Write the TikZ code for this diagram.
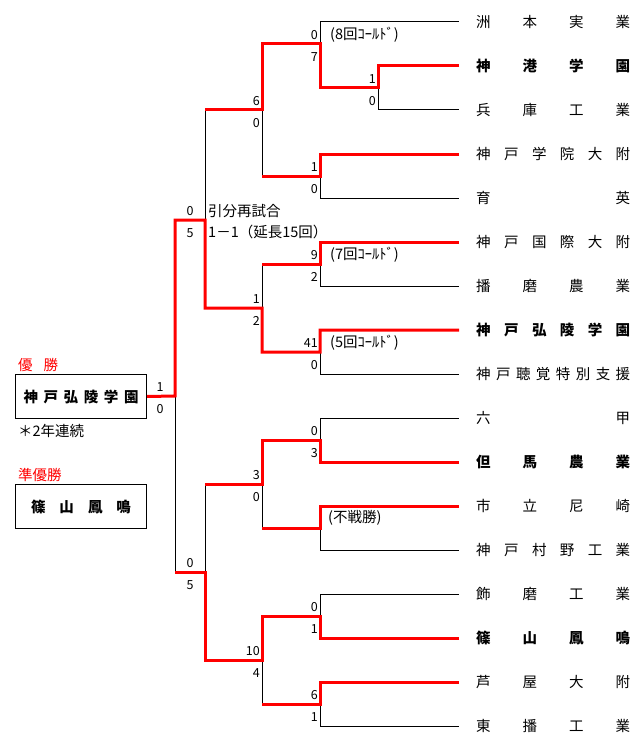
\documentclass[tikz,border=0pt]{standalone}
\usepackage{fontspec}
\setmainfont{Noto Sans CJK JP}
\definecolor{wred}{RGB}{255,0,0}
\begin{document}
\begin{tikzpicture}[x=1pt,y=-1pt,
  bk/.style={line width=1pt, black},
  rd/.style={line width=3pt, wred, line join=miter},
  tn/.style={anchor=west, inner sep=0pt, font=\fontsize{14.5}{14.5}\selectfont},
  tnb/.style={anchor=west, inner sep=0pt, font=\fontsize{14.5}{14.5}\selectfont\bfseries},
  sa/.style={anchor=east, inner sep=0pt, font=\fontsize{12.5}{12.5}\selectfont},
  sc/.style={inner sep=0pt, font=\fontsize{12.5}{12.5}\selectfont},
  nt/.style={anchor=west, inner sep=0pt, font=\fontsize{14.5}{14.5}\selectfont},
  wbox/.style={draw, line width=1pt, minimum width=131pt, minimum height=44pt, inner sep=0pt, anchor=north west, font=\fontsize{14.5}{14.5}\selectfont\bfseries},
]
\useasboundingbox (0,0) rectangle (633,749);
\fill[white] (0,0) rectangle (633,749);

% team names
\node[tn]  (t1)  at (476,22)  {\makebox[154pt]{洲\hfill{}本\hfill{}実\hfill{}業}};
\node[tnb] (t2)  at (476,66)  {\makebox[154pt]{神\hfill{}港\hfill{}学\hfill{}園}};
\node[tn]  (t3)  at (476,110) {\makebox[154pt]{兵\hfill{}庫\hfill{}工\hfill{}業}};
\node[tn]  (t4)  at (476,154) {\makebox[154pt]{神\hfill{}戸\hfill{}学\hfill{}院\hfill{}大\hfill{}附}};
\node[tn]  (t5)  at (476,198) {\makebox[154pt]{育\hfill{}英}};
\node[tn]  (t6)  at (476,242) {\makebox[154pt]{神\hfill{}戸\hfill{}国\hfill{}際\hfill{}大\hfill{}附}};
\node[tn]  (t7)  at (476,286) {\makebox[154pt]{播\hfill{}磨\hfill{}農\hfill{}業}};
\node[tnb] (t8)  at (476,330) {\makebox[154pt]{神\hfill{}戸\hfill{}弘\hfill{}陵\hfill{}学\hfill{}園}};
\node[tn]  (t9)  at (476,374) {\makebox[154pt]{神\hfill{}戸\hfill{}聴\hfill{}覚\hfill{}特\hfill{}別\hfill{}支\hfill{}援}};
\node[tn]  (t10) at (476,418) {\makebox[154pt]{六\hfill{}甲}};
\node[tnb] (t11) at (476,462) {\makebox[154pt]{但\hfill{}馬\hfill{}農\hfill{}業}};
\node[tn]  (t12) at (476,506) {\makebox[154pt]{市\hfill{}立\hfill{}尼\hfill{}崎}};
\node[tn]  (t13) at (476,550) {\makebox[154pt]{神\hfill{}戸\hfill{}村\hfill{}野\hfill{}工\hfill{}業}};
\node[tn]  (t14) at (476,594) {\makebox[154pt]{飾\hfill{}磨\hfill{}工\hfill{}業}};
\node[tnb] (t15) at (476,638) {\makebox[154pt]{篠\hfill{}山\hfill{}鳳\hfill{}鳴}};
\node[tn]  (t16) at (476,682) {\makebox[154pt]{芦\hfill{}屋\hfill{}大\hfill{}附}};
\node[tn]  (t17) at (476,726) {\makebox[154pt]{東\hfill{}播\hfill{}工\hfill{}業}};

% result boxes
\node[nt, text=wred] (lwin) at (18,365) {優\hspace{11pt}{}勝};
\node[wbox] (champ) at (15,374) {\makebox[115pt]{神\hfill{}戸\hfill{}弘\hfill{}陵\hfill{}学\hfill{}園}};
\node[nt] (note2) at (18,431) {＊2年連続};
\node[nt, text=wred] (lrun) at (18,475) {準優勝};
\node[wbox] (runner) at (15,484) {\makebox[100pt]{篠\hfill{}山\hfill{}鳳\hfill{}鳴}};

% black (losing) segments
\draw[bk] (320,22) -- ([xshift=-17pt]t1.west);
\draw[bk] (320,22) -- (320,44);
\draw[bk] (378,110) -- ([xshift=-17pt]t3.west);
\draw[bk] (378,110) -- (378,88);
\draw[bk] (320,198) -- ([xshift=-17pt]t5.west);
\draw[bk] (320,198) -- (320,176);
\draw[bk] (262,110) -- (262,176);
\draw[bk] (320,286) -- ([xshift=-17pt]t7.west);
\draw[bk] (320,286) -- (320,264);
\draw[bk] (320,374) -- ([xshift=-17pt]t9.west);
\draw[bk] (320,374) -- (320,352);
\draw[bk] (262,264) -- (262,308);
\draw[bk] (205,110) -- (205,220);
\draw[bk] (320,418) -- ([xshift=-17pt]t10.west);
\draw[bk] (320,418) -- (320,440);
\draw[bk] (320,550) -- ([xshift=-17pt]t13.west);
\draw[bk] (320,550) -- (320,528);
\draw[bk] (262,484) -- (262,528);
\draw[bk] (320,594) -- ([xshift=-17pt]t14.west);
\draw[bk] (320,594) -- (320,616);
\draw[bk] (320,726) -- ([xshift=-17pt]t17.west);
\draw[bk] (320,726) -- (320,704);
\draw[bk] (262,660) -- (262,704);
\draw[bk] (205,484) -- (205,572);
\draw[bk] (175,396) -- (175,572);

% red (winning) paths
\draw[rd] ([xshift=-17pt]t2.west) -- (378,66) -- (378,88) -- (320,88) -- (320,44) -- (262,44) -- (262,110) -- (205,110);
\draw[rd] ([xshift=-17pt]t4.west) -- (320,154) -- (320,176) -- (262,176);
\draw[rd] ([xshift=-17pt]t6.west) -- (320,242) -- (320,264) -- (262,264);
\draw[rd] ([xshift=-17pt]t8.west) -- (320,330) -- (320,352) -- (262,352) -- (262,308) -- (205,308) -- (205,220) -- (175,220) -- (175,396) -- (champ.east);
\draw[rd] ([xshift=-17pt]t11.west) -- (320,462) -- (320,440) -- (262,440) -- (262,484) -- (205,484);
\draw[rd] ([xshift=-17pt]t12.west) -- (320,506) -- (320,528) -- (262,528);
\draw[rd] ([xshift=-17pt]t15.west) -- (320,638) -- (320,616) -- (262,616) -- (262,660) -- (205,660) -- (205,572) -- (175,572);
\draw[rd] ([xshift=-17pt]t16.west) -- (320,682) -- (320,704) -- (262,704);

% scores
\node[sa] (sa1) at (376,79) {1};  \node[sa] (sa2) at (376,101) {0};
\node[sa] (sb1) at (318,35) {0};  \node[sa] (sb2) at (318,57) {7};
\node[sa] (sc1) at (318,167) {1}; \node[sa] (sc2) at (318,189) {0};
\node[sa] (sd1) at (260,101) {6}; \node[sa] (sd2) at (260,123) {0};
\node[sa] (se1) at (318,255) {9}; \node[sa] (se2) at (318,277) {2};
\node[sa] (sf1) at (318,343) {41}; \node[sa] (sf2) at (318,365) {0};
\node[sa] (sg1) at (260,299) {1}; \node[sa] (sg2) at (260,321) {2};
\node[sc] (sh1) at (190,211) {0}; \node[sc] (sh2) at (190,233) {5};
\node[sa] (si1) at (318,431) {0}; \node[sa] (si2) at (318,453) {3};
\node[sa] (sk1) at (260,475) {3}; \node[sa] (sk2) at (260,497) {0};
\node[sa] (sl1) at (318,607) {0}; \node[sa] (sl2) at (318,629) {1};
\node[sa] (sm1) at (318,695) {6}; \node[sa] (sm2) at (318,717) {1};
\node[sa] (sn1) at (260,651) {10}; \node[sa] (sn2) at (260,673) {4};
\node[sc] (so1) at (190,563) {0}; \node[sc] (so2) at (190,585) {5};
\node[sc] (sz1) at (160,387) {1}; \node[sc] (sz2) at (160,409) {0};

% notes
\node[nt] (n1) at (330,35)  {(8回ｺｰﾙﾄﾞ)};
\node[nt] (n2) at (330,255) {(7回ｺｰﾙﾄﾞ)};
\node[nt] (n3) at (330,343) {(5回ｺｰﾙﾄﾞ)};
\node[nt] (n4) at (328,518) {(不戦勝)};
\node[nt] (n5) at (208,211) {引分再試合};
\node[nt] (n6) at (208,232) {1－1（延長15回）};
\end{tikzpicture}
\end{document}
